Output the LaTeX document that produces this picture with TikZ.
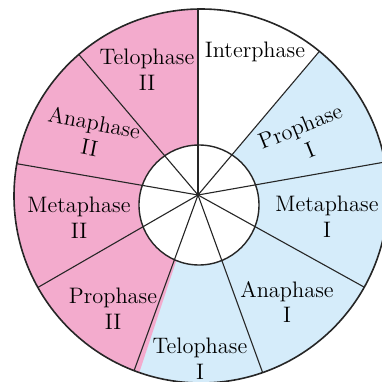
\documentclass[tikz,border=0pt]{standalone}
\usepackage{tikz}
\usetikzlibrary{calc}
\definecolor{meiosisII}{RGB}{243,171,205}
\definecolor{meiosisI}{RGB}{213,236,250}
\tikzstyle{phase} = [align=center, inner sep=0pt, font=\fontsize{11.2}{12.8}\selectfont]
\tikzstyle{divider} = [line width=0.55pt, draw=black!85]

\begin{document}
\begin{tikzpicture}[x=0.5pt, y=0.5pt]
                \useasboundingbox (0,0) rectangle (382,382);
                \coordinate (hub) at (198,187);
                \coordinate (rim) at (201,186);
                \coordinate (core) at (199,177);

                \begin{scope}
                    \clip (rim) circle (187);
                    \fill[meiosisI] (rim) circle (187);
                    \fill[meiosisII] (hub) -- ++(90:300) arc[start angle=90, end angle=251.7, radius=300] -- cycle;
                    \fill[white] (hub) -- ++(49.8:300) arc[start angle=49.8, end angle=90, radius=300] -- cycle;
                    \fill[white] (core) circle (60);
                    \foreach \a in {49.8,10,-29,-70,250,210,170.2,130.3}
                        \draw[divider] (hub) -- ++(\a:300);
                    \draw[divider, line width=0.9pt] (hub) -- ++(90:300);
                \end{scope}
                \fill[black!85] (hub) circle (1.8);
                \draw[line width=0.7pt, black!85] (core) circle (60);
                \draw[line width=0.8pt, black!85] (rim) circle (187);

                \node[phase] (inter) at (255,330) {Interphase};
                \node[phase, rotate=22] (proI) at (305,244) {Prophase\\I};
                \node[phase] (metI) at (327,165) {Metaphase\\I};
                \node[phase] (anaI) at (287,80) {Anaphase\\I};
                \node[phase] (telI) at (200,23) {Telophase\\I};
                \node[phase] (proII) at (113,73) {Prophase\\II};
                \node[phase] (metII) at (79,164) {Metaphase\\II};
                \node[phase, rotate=-11] (anaII) at (92,247) {Anaphase\\II};
                \node[phase] (telII) at (147,312) {Telophase\\II};
            \end{tikzpicture}
\end{document}
